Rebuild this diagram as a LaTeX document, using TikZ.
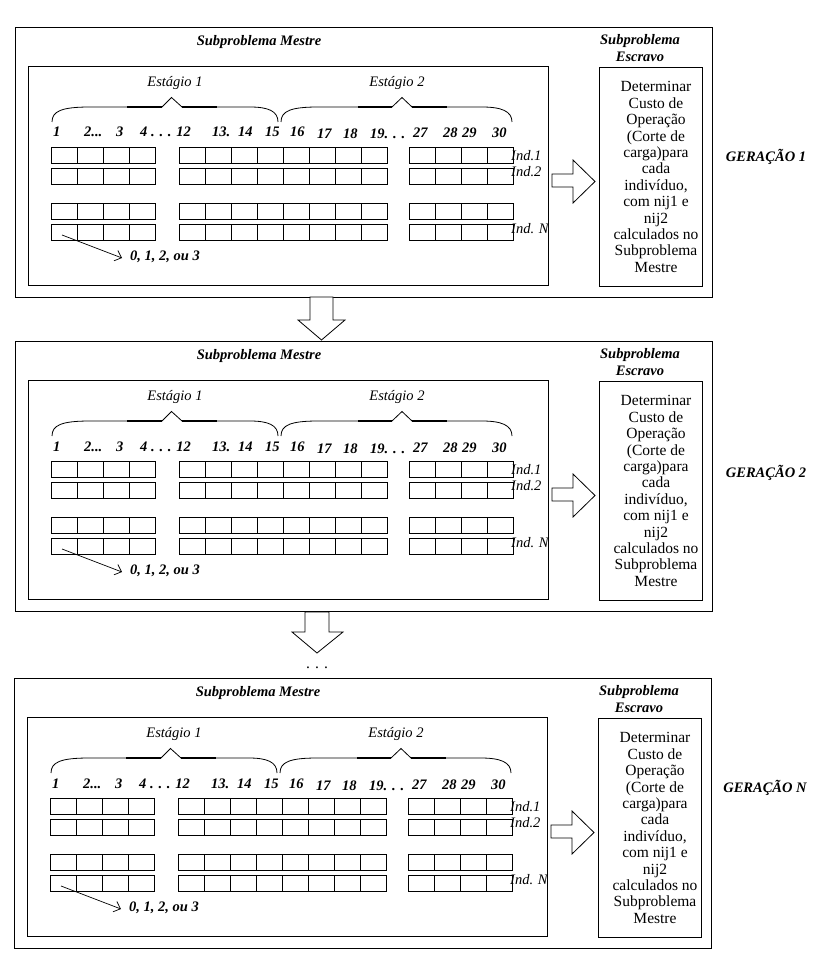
\documentclass[tikz,border=0pt]{standalone}
\usepackage{fontspec}
\setmainfont{Liberation Serif}
\usetikzlibrary{arrows.meta}
\tikzset{
  box/.style={draw, line width=1pt, inner sep=0pt, anchor=north west},
  cellbox/.style={line width=0.9pt},
  bilab/.style={font=\fontsize{14.5}{16.5}\selectfont\bfseries\itshape, inner sep=0pt},
  numlab/.style={font=\fontsize{14.5}{16.5}\selectfont\bfseries\itshape, inner sep=0pt, anchor=base west},
  itlab/.style={font=\fontsize{14.5}{16.5}\selectfont\itshape, inner sep=0pt},
  slavetext/.style={font=\fontsize{15.5}{16.4}\selectfont, align=center, inner sep=0pt},
  bracepath/.style={line width=0.8pt},
  bracethick/.style={line width=2pt},
  blockarrow/.style={draw, line width=0.8pt, fill=white, line join=miter},
}
\begin{document}
\begin{tikzpicture}[x=1pt,y=-1pt]
\useasboundingbox[fill=white] (0,0) rectangle (830,965);
\foreach \p/\dy/\dx/\g/\gy in {1/0/0/1/157, 2/314/0/2/159, 3/651/-1/N/137}{
\begin{scope}[shift={(\dx,\dy)}]
  % boxes
  \node[box, minimum width=697pt, minimum height=270pt] (outer\p) at (15,27) {};
  \node[box, minimum width=520pt, minimum height=219pt] (inner\p) at (28,66) {};
  \node[box, minimum width=103pt, minimum height=219pt] (slave\p) at (599,67) {};
  % titles
  \node[bilab] (mtitle\p) at (259,42) {Subproblema Mestre};
  \node[bilab, align=center, font=\fontsize{14.5}{17}\selectfont\bfseries\itshape] (stitle\p) at (640,48) {Subproblema\\Escravo};
  \node[bilab] (gen\p) at (766,\gy) {GERAÇÃO \g};
  % braces
  \draw[bracepath] (52,122) .. controls (52,111) and (62,107) .. (90,107) -- (162,107) -- (171.5,97.5) -- (182,107) -- (250,107) .. controls (268,107) and (278,111) .. (278,122);
  \draw[bracethick] (127,107) -- (162,107) (182,107) -- (217,107);
  \draw[bracepath] (281,122) .. controls (281,111) and (291,107) .. (318,107) -- (392,107) -- (402,97.5) -- (412,107) -- (482,107) .. controls (501,107) and (512,111) .. (512,122);
  \draw[bracethick] (358,107) -- (392,107) (412,107) -- (447,107);
  \node[itlab] (est1\p) at (175,83) {Estágio 1};
  \node[itlab] (est2\p) at (397,83) {Estágio 2};
  % numbers
  \node[numlab] (n1\p) at (53,137) {1};
  \node[numlab] (n2\p) at (84,137) {2...};
  \node[numlab] (n3\p) at (116,137) {3};
  \node[numlab] (n4\p) at (140,137) {4 . . . 12};
  \node[numlab] (n13\p) at (212,137) {13.};
  \node[numlab] (n14\p) at (238,137) {14};
  \node[numlab] (n15\p) at (265,137) {15};
  \node[numlab] (n16\p) at (290,137) {16};
  \node[numlab] (n17\p) at (317,139) {17};
  \node[numlab] (n18\p) at (343,139) {18};
  \node[numlab] (n19\p) at (370,139) {19. . .};
  \node[numlab] (n27\p) at (413,138) {27};
  \node[numlab] (n28\p) at (443,138) {28};
  \node[numlab] (n29\p) at (462,138) {29};
  \node[numlab] (n30\p) at (492,138) {30};
  % cells
  \foreach \r in {147,168,203,224}{
    \foreach \i in {0,...,3}{\draw[cellbox] (51+26*\i,\r) rectangle +(26,16);}
    \foreach \i in {0,...,7}{\draw[cellbox] (179+26*\i,\r) rectangle +(26,16);}
    \foreach \i in {0,...,3}{\draw[cellbox] (409+26*\i,\r) rectangle +(26,16);}
  }
  % individual labels
  \node[itlab, anchor=west] (ind1\p) at (511,156) {Ind.1};
  \node[itlab, anchor=west] (ind2\p) at (511,172) {Ind.2};
  \node[itlab, anchor=west] (indN\p) at (511,229) {Ind. N};
  % value arrow
  \coordinate (vs\p) at (62,235);
  \node[bilab, anchor=west] (val\p) at (130,257) {0, 1, 2, ou 3};
  \draw[line width=0.7pt, -{Straight Barb[length=6pt, width=11pt, line width=0.7pt]}] (vs\p) -- ([xshift=-8pt,yshift=-1pt]val\p.west);
  % block arrow to slave
  \draw[blockarrow] (552,174) -- (573,174) -- (573,160) -- (595,181.5) -- (573,203) -- (573,187) -- (552,187) -- cycle;
  % slave text
  \node[slavetext] (stext\p) at (656,177) {Determinar\\Custo de\\Operação\\(Corte de\\carga)para\\cada\\indivíduo,\\com nij1 e\\nij2\\calculados no\\Subproblema\\Mestre};
\end{scope}
}
% arrows between generations
\draw[blockarrow] (310,297) -- (310,320) -- (298,320) -- (321.5,340) -- (345,320) -- (333,320) -- (333,297) -- cycle;
\draw[blockarrow] (305,612) -- (305,632) -- (292,632) -- (317,653) -- (343,632) -- (329,632) -- (329,612) -- cycle;
\node[font=\fontsize{15.5}{16}\selectfont, inner sep=0pt] (dots) at (317,668) {. . .};
\end{tikzpicture}
\end{document}
